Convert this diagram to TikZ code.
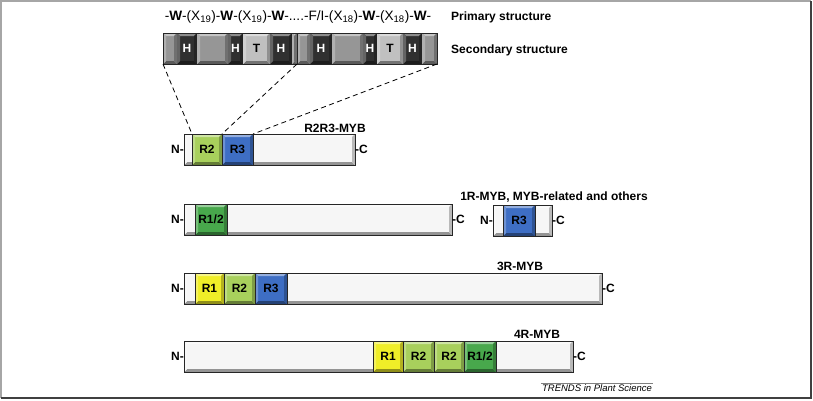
\documentclass[tikz,border=0pt]{standalone}
\usepackage{fontspec}
\setmainfont{Liberation Sans}
\usepackage{tikz}
\usetikzlibrary{positioning}

\definecolor{colRa}{RGB}{240,238,40}
\definecolor{colRb}{RGB}{168,208,92}
\definecolor{colRc}{RGB}{62,110,196}
\definecolor{colRab}{RGB}{72,168,76}
\definecolor{segH}{RGB}{48,48,48}
\definecolor{segT}{RGB}{192,192,192}
\definecolor{segG}{RGB}{150,150,150}
\definecolor{body}{RGB}{246,246,246}

\newcommand{\lab}{\fontsize{12}{14}\selectfont\bfseries}

\begin{document}
\begin{tikzpicture}[x=1pt,y=-1pt,
  bevel/.style={fill=#1,path picture={
    \path (path picture bounding box.north west) coordinate (pa)
          (path picture bounding box.north east) coordinate (pb)
          (path picture bounding box.south east) coordinate (pc)
          (path picture bounding box.south west) coordinate (pd);
    \fill[#1!55!white] (pa)--(pb)--([shift={(-3pt,-3pt)}]pb)--([shift={(3pt,-3pt)}]pa)--cycle;
    \fill[#1!60!black] (pd)--(pc)--([shift={(-3pt,3pt)}]pc)--([shift={(3pt,3pt)}]pd)--cycle;
    \fill[#1!75!white] (pa)--([shift={(3pt,-3pt)}]pa)--([shift={(3pt,3pt)}]pd)--(pd)--cycle;
    \fill[#1!75!black] (pb)--([shift={(-3pt,-3pt)}]pb)--([shift={(-3pt,3pt)}]pc)--(pc)--cycle;
  }},
  box/.style={draw=black!85,line width=1pt,minimum height=31pt,inner sep=0pt,
    outer sep=0pt,anchor=north west,font=\lab},
  seg/.style={minimum height=31pt,inner sep=0pt,outer sep=0pt,anchor=north west,font=\lab},
  title/.style={font=\lab,inner sep=0pt},
  zoomline/.style={line width=0.8pt,dash pattern=on 5pt off 3.5pt}]

\useasboundingbox (0,0) rectangle (813,400);

%frame
\draw[gray!70,line width=1.5pt] (1,398) -- (1,1) -- (811,1);
\draw[black!75,line width=1.5pt] (811,1) -- (811,398) -- (1,398);

%structure
\node[font=\fontsize{13.6}{15}\selectfont,inner sep=0pt] (prim) at (298,17)
  {-\textbf{W}-(X\textsubscript{19})-\textbf{W}-(X\textsubscript{19})-\textbf{W}-....-F/I-(X\textsubscript{18})-\textbf{W}-(X\textsubscript{18})-\textbf{W}-};
\node[title,anchor=west] (primlab) at (451,17) {Primary structure};
\node[title,anchor=west] (seclab) at (451,50) {Secondary structure};

%secondary segments
\foreach \x/\w/\c/\f/\t in {163/14/segG/black/{},177/20/segH/white/H,197/31/segG/black/{},
  228/15/segH/white/H,243/27/segT/black/T,270/22/segH/white/H,292/5/segG/black/{},
  297/13/segG/black/{},310/22/segH/white/H,332/31/segG/black/{},363/14/segH/white/H,
  377/26/segT/black/T,403/19/segH/white/H,422/15/segG/black/{}}
  \node[seg,bevel=\c,text=\f,minimum width=\w pt] at (\x,33) {\t};
\node[box,minimum width=134pt] (sec1) at (163,33) {};
\node[box,minimum width=140pt] (sec2) at (297,33) {};

%proteins
\foreach \n/\x/\y/\w in {1/184/134/171,2/184/204/268,3/493/205/59,4/184/273/418,5/184/341/389}
  {\node[box,bevel=body,minimum width=\w pt] (bar\n) at (\x,\y) {};
  \node[title,anchor=east] at (bar\n.west) {N-};
  \node[title,anchor=west] at (bar\n.east) {-C};}

%domains
\foreach \n/\x/\y/\w/\c/\t in {r2a/192/134/30/colRb/R2,r3a/222/134/31/colRc/R3,
  r12b/195/204/32/colRab/{R1/2},r3c/503/205/32/colRc/R3,
  r1d/195/273/29/colRa/R1,r2d/224/273/31/colRb/R2,r3d/255/273/32/colRc/R3,
  r1e/373/341/30/colRa/R1,r2e/403/341/31/colRb/R2,r2f/434/341/30/colRb/R2,r12e/464/341/32/colRab/{R1/2}}
  \node[box,bevel=\c,minimum width=\w pt] (\n) at (\x,\y) {\t};

%names
\node[title] at (335,128) {R2R3-MYB};
\node[title] at (554,197) {1R-MYB, MYB-related and others};
\node[title] at (520,266) {3R-MYB};
\node[title] at (537,334) {4R-MYB};

%zoom lines
\draw[zoomline] (sec1.south west) -- (r2a.north west);
\draw[zoomline] (sec1.south east) -- (r3a.north west);
\draw[zoomline] (sec2.south east) -- (r3a.north east);

%source
\node[font=\fontsize{9.5}{11}\selectfont\itshape,inner sep=1pt] (trends) at (597,388) {TRENDS in Plant Science};
\draw[gray,thin] (trends.north west) -- (trends.north east);
\end{tikzpicture}
\end{document}
